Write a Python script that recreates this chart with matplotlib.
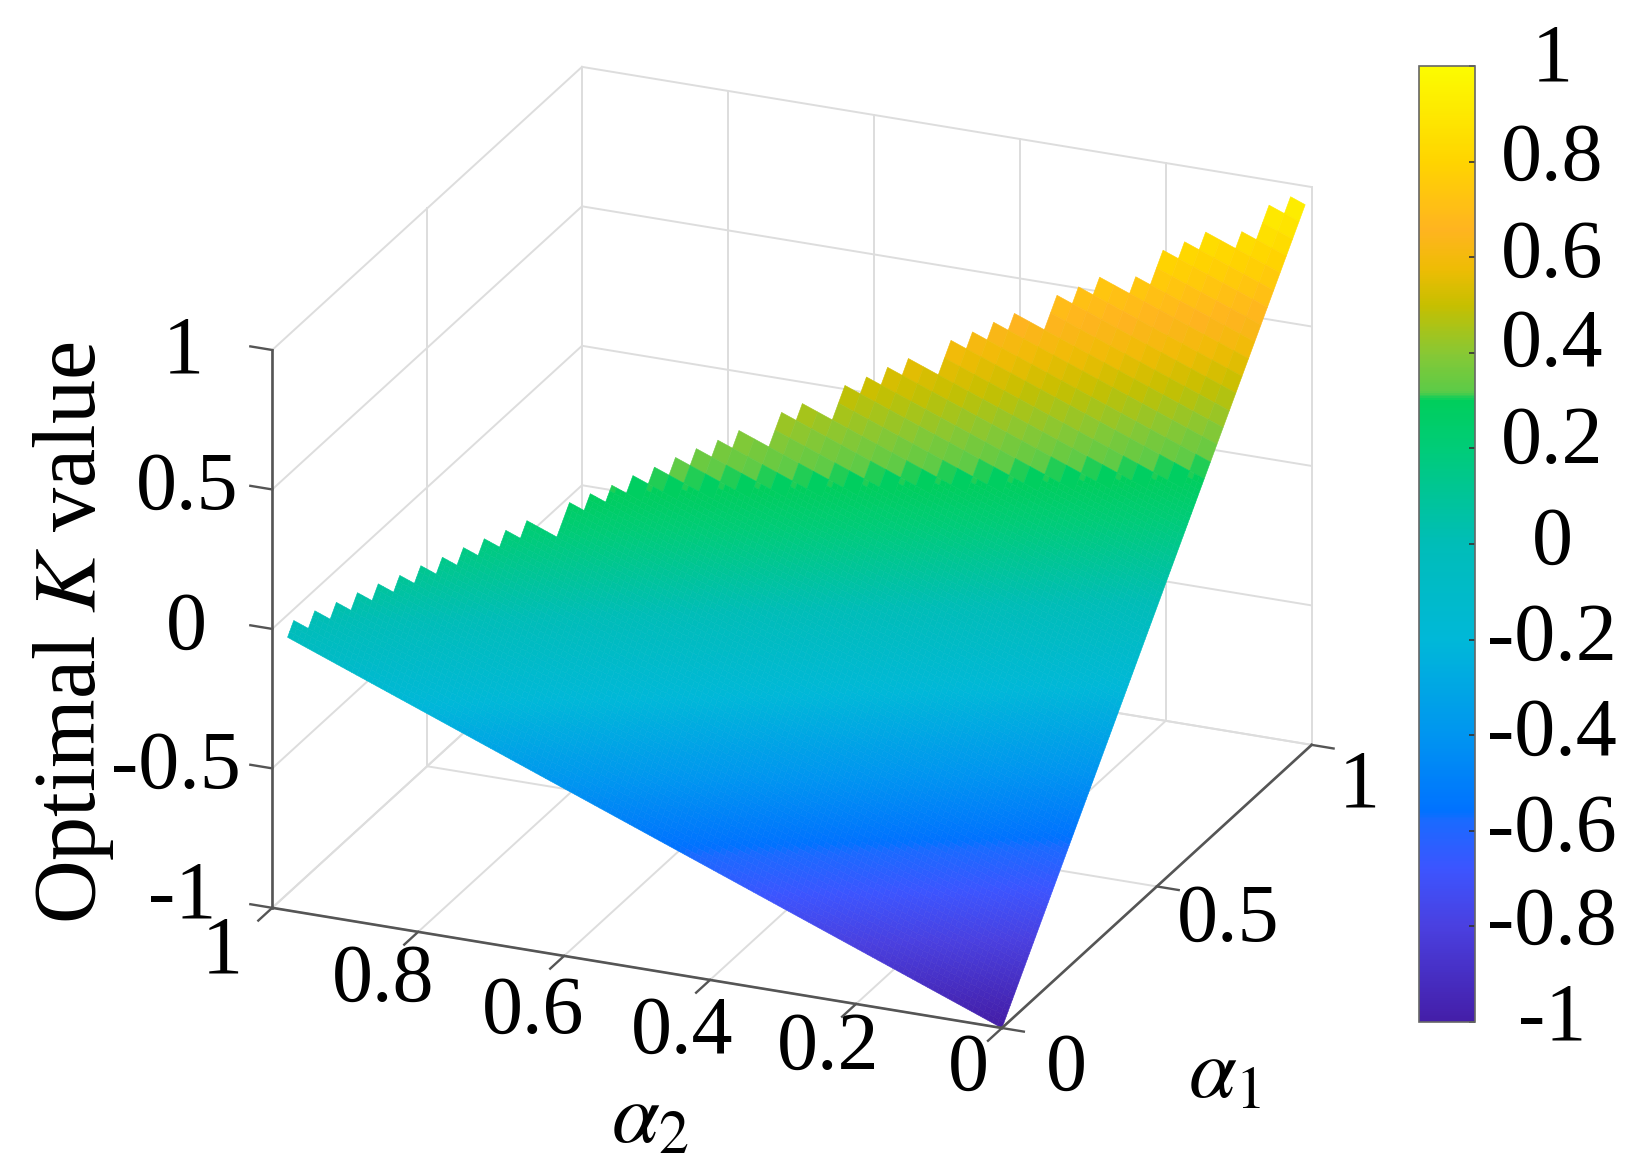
import matplotlib
matplotlib.use("Agg")
import matplotlib.pyplot as plt
from matplotlib.cm import ScalarMappable
from matplotlib.colors import LinearSegmentedColormap, Normalize
from mpl_toolkits.mplot3d import proj3d
from mpl_toolkits.mplot3d.art3d import Poly3DCollection

plt.rcParams["font.family"] = ["Liberation Serif", "DejaVu Serif"]
plt.rcParams["mathtext.fontset"] = "stix"

# grid values read along the two surface edges
alpha_grid = [0, .020, .041, .061, .082, .102, .122, .143, .163, .184, .204, .224, .245, .265, .286, .306, .326,
              .347, .367, .388, .408, .428, .449, .469, .490, .510, .530, .551, .571, .592, .612, .632, .653,
              .673, .694, .714, .734, .755, .775, .796, .816, .836, .857, .877, .898, .918, .938, .959, .979]
k_along_a1 = [-1, -.96, -.918, -.878, -.836, -.796, -.756, -.714, -.674, -.632, -.592, -.552, -.51, -.47, -.428,
              -.388, -.348, -.306, -.266, -.224, -.184, -.144, -.102, -.062, -.02, .02, .06, .102, .142, .184,
              .224, .264, .306, .346, .388, .428, .468, .51, .55, .592, .632, .672, .714, .754, .796, .836,
              .876, .918, .958]

# staircase of the top edge, going from alpha2 = 0 towards alpha2 = 1 (grid cells)
stair_width = [1, 1, 1, 2, 1, 1, 1, 2, 1, 1, 2, 1, 1, 1, 2, 1, 1, 1, 2, 1, 2, 1,
               1, 1, 1, 1, 1, 1, 1, 2, 1, 1, 1, 1, 1, 1, 1, 1, 1, 1, 1]
stair_drop = [1, 2, 1, 1, 1, 2, 1, 1, 1, 2, 1, 1, 1, 2, 1, 1, 1, 2, 1, 2, 1, 1,
              1, 1, 1, 1, 1, 1, 2, 1, 1, 1, 1, 1, 1, 1, 1, 1, 1, 1, 1]

a2_ticks = [0, .2, .4, .6, .8, 1]
a2_tick_labels = ["0", "0.2", "0.4", "0.6", "0.8", "1"]
a1_ticks = [0, .5, 1]
a1_tick_labels = ["0", "0.5", "1"]
k_ticks = [-1, -.5, 0, .5, 1]
k_tick_labels = ["-1", "-0.5", "0", "0.5", "1"]
cbar_ticks = [-1, -.8, -.6, -.4, -.2, 0, .2, .4, .6, .8, 1]
cbar_tick_labels = ["-1", "-0.8", "-0.6", "-0.4", "-0.2", "0", "0.2", "0.4", "0.6", "0.8", "1"]

# colormap
cmap_values = [-1, -.8, -.68, -.58, -.56, -.4, -.2, 0, .2, .3, .32, .4, .5, .58, .66, .8, 1]
cmap_colors = ["#441ea8", "#4a40e0", "#3c55ff", "#1a6aff", "#0072ff", "#0095f0", "#00b8d8", "#00bdb8",
               "#00cc78", "#00ce5c", "#5ccb48", "#88c834", "#c6bf00", "#efbc05", "#ffb420", "#ffd400", "#fcfc00"]
cmap_pos = [(v + 1) / 2 for v in cmap_values]
parula_like = LinearSegmentedColormap.from_list("k_map", list(zip(cmap_pos, cmap_colors)), N=512)
norm = Normalize(-1, 1)

fig = plt.figure(figsize=(16.44, 11.74), dpi=100)
ax = fig.add_axes([189.1 / 1644, 23.7 / 1174, 1174 / 1644, 1], projection="3d", proj_type="ortho",
                  computed_zorder=False)
ax.set_xlim(0, 1, view_margin=0)
ax.set_ylim(0, 1, view_margin=0)
ax.set_zlim(-1, 1, view_margin=0)
ax.view_init(elev=22.83, azim=203.0)
ax.set_box_aspect((1, 1, .7635), zoom=1.0535)
ax.set_axis_off()

# box grid
grid_c = "#dddddd"
for a2 in a2_ticks:
    ax.plot([1, 1], [a2, a2], [-1, 1], color=grid_c, lw=1.4, zorder=1)
    ax.plot([0, 1], [a2, a2], [-1, -1], color=grid_c, lw=1.4, zorder=1)
for a1 in a1_ticks:
    ax.plot([a1, a1], [1, 1], [-1, 1], color=grid_c, lw=1.4, zorder=1)
    ax.plot([a1, a1], [0, 1], [-1, -1], color=grid_c, lw=1.4, zorder=1)
for k in k_ticks:
    ax.plot([1, 1], [0, 1], [k, k], color=grid_c, lw=1.4, zorder=1)
    ax.plot([0, 1], [1, 1], [k, k], color=grid_c, lw=1.4, zorder=1)

# surface: flat quads; cells under the green step get finer shading, the reference is smooth there
tops = []
top = 48
for w, d in zip(stair_width, stair_drop):
    tops += [top] * w
    top -= d
SUB = 3
quads, cols = [], []
for j, t in enumerate(tops):
    for i in range(t):
        a1_lo, a1_hi = alpha_grid[i], alpha_grid[i + 1]
        a2_lo, a2_hi = alpha_grid[j], alpha_grid[j + 1]
        k_lo, k_hi = k_along_a1[i], k_along_a1[i + 1]
        n = SUB if k_lo + a2_lo < 0.28 else 1
        for p in range(n):
            for q in range(n):
                quad = []
                for pp, qq in [(p, q), (p + 1, q), (p + 1, q + 1), (p, q + 1)]:
                    u, v = pp / n, qq / n
                    quad.append((a1_lo + u * (a1_hi - a1_lo), a2_lo + v * (a2_hi - a2_lo),
                                 k_lo + u * (k_hi - k_lo) + a2_lo + v * (a2_hi - a2_lo)))
                quads.append(quad)
                cols.append(parula_like(norm(k_lo + p / n * (k_hi - k_lo) + a2_lo + q / n * (a2_hi - a2_lo))))
surf = Poly3DCollection(quads, facecolors=cols, edgecolors=cols, linewidths=0.4, zorder=3)
ax.add_collection3d(surf)

# axes and ticks
axis_c = "#555555"
ax.plot([0, 0], [0, 1], [-1, -1], color=axis_c, lw=1.9, zorder=4)
ax.plot([0, 1], [0, 0], [-1, -1], color=axis_c, lw=1.9, zorder=4)
ax.plot([0, 0], [1, 1], [-1, 1], color=axis_c, lw=1.9, zorder=4)
for a2 in a2_ticks:
    ax.plot([0, -.045], [a2, a2], [-1, -1], color=axis_c, lw=1.7, zorder=4)
for a1 in a1_ticks:
    ax.plot([a1, a1], [0, -.03], [-1, -1], color=axis_c, lw=1.7, zorder=4)
for k in k_ticks:
    ax.plot([0, 0], [1, 1.03], [k, k], color=axis_c, lw=1.7, zorder=4)


def label3d(text, x, y, z, dx, dy, size=59, **kw):
    px, py, _ = proj3d.proj_transform(x, y, z, ax.get_proj())
    ax.annotate(text, xy=(px, py), xycoords="data", xytext=(dx, dy), textcoords="offset pixels",
                ha="center", va="center", fontsize=size, annotation_clip=False, **kw)


for k, s, dx, dy in zip(k_ticks, k_tick_labels, [-90, -96, -86, -85, -89], [10, 0, 0, 0, -3]):
    label3d(s, 0, 1, k, dx, dy)
for a2, s, dx, dy in zip(a2_ticks, a2_tick_labels, [-34, -28, -28, -31, -35, -50], [-42, -45, -53, -57, -49, -45]):
    label3d(s, 0, a2, -1, dx, dy)
for a1, s, dx, dy in zip(a1_ticks, a1_tick_labels, [64, 71, 48], [-42, -35, -42]):
    label3d(s, a1, 0, -1, dx, dy)

fig.text(70 * 1.0485 / 1644, 1 - 604 * 1.0485 / 1174, r"Optimal $\mathit{K}$ value", rotation=90,
         ha="center", va="center", fontsize=63.5)
fig.text(620 * 1.0485 / 1644, 1 - 1070 * 1.0485 / 1174, r"$\alpha_{2}$", ha="center", va="center", fontsize=62)
fig.text(1168 * 1.0485 / 1644, 1 - 1026 * 1.0485 / 1174, r"$\alpha_{1}$", ha="center", va="center", fontsize=62)

# colour bar
cax = fig.add_axes([1419 / 1644, 1 - 1022 / 1174, 56 / 1644, 956 / 1174])
cb = fig.colorbar(ScalarMappable(norm=norm, cmap=parula_like), cax=cax)
cb.set_ticks(cbar_ticks)
cb.set_ticklabels([""] * len(cbar_ticks))
cb.outline.set_edgecolor("#666666")
cb.outline.set_linewidth(1.2)
cax.tick_params(axis="y", direction="in", length=4, width=1.2, color="#333333")
for v, s, dy in zip(cbar_ticks, cbar_tick_labels, [2, 2, 0, 0, 0, 0, 5, 7, 0, 2, 5]):
    cax.annotate(s, xy=(1, v), xycoords=("axes fraction", "data"), xytext=(77, dy), textcoords="offset pixels",
                 ha="center", va="center", fontsize=59, annotation_clip=False)

fig.savefig("out.png", dpi=100)
